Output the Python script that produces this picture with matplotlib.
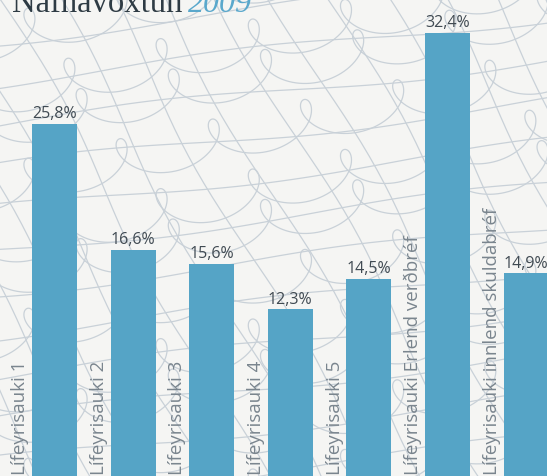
import numpy as np
import matplotlib
matplotlib.use("Agg")
import matplotlib.pyplot as plt

categories = ["Lífeyrisauki 1", "Lífeyrisauki 2", "Lífeyrisauki 3", "Lífeyrisauki 4",
              "Lífeyrisauki 5", "Lífeyrisauki Erlend verðbréf", "Lífeyrisauki innlend skuldabréf"]
values = [25.8, 16.6, 15.6, 12.3, 14.5, 32.4, 14.9]
value_labels = ["25,8%", "16,6%", "15,6%", "12,3%", "14,5%", "32,4%", "14,9%"]
title_main = "Nafnávöxtun"
title_year = "2009"

W, H = 547, 477
fig = plt.figure(figsize=(W / 100, H / 100), dpi=100)
fig.patch.set_facecolor("#f5f5f3")

# decorative background pattern
bg = fig.add_axes([0, 0, 1, 1])
bg.set_xlim(0, W)
bg.set_ylim(H, 0)
bg.axis("off")
line_col = "#c9d1d8"
t = np.linspace(-20, 60, 5000)
ang = np.deg2rad(-12)
for k in range(-6, 14):
    r, d = 15.0, 24.0
    xs = r * t - d * np.sin(t)
    ys = -0.9 * d * np.cos(t)
    x0 = xs * np.cos(ang) - ys * np.sin(ang) - 100 + (k % 3) * 40
    y0 = xs * np.sin(ang) + ys * np.cos(ang) + k * 50
    bg.plot(x0, y0, color=line_col, lw=0.9, solid_capstyle="round")
s = np.linspace(-100, 700, 60)
for k in range(-14, 14):
    xs = s * 0.55 + k * 55
    bg.plot(xs + 8 * np.sin(s / 60 + k), s, color=line_col, lw=0.9)
for k in range(-6, 16):
    xs = np.linspace(-50, 600, 60)
    ys = k * 42 - 0.12 * xs + 6 * np.sin(xs / 90 + k)
    bg.plot(xs, ys, color=line_col, lw=0.9)

ax = fig.add_axes([0, 0, 1, 1])
ax.patch.set_alpha(0)
x = np.arange(len(values))
width = 0.573
ax.bar(x, values, width=width, color="#55a4c6", zorder=3)
ax.set_xlim(-0.693, 6.266)
ax.set_ylim(0.18, 34.85)
ax.axis("off")

for xi, v, lab in zip(x, values, value_labels):
    ax.annotate(lab, (xi, v), xytext=(0, 4.8), textcoords="offset points",
                ha="center", va="baseline", fontsize=11.5, family="Open Sans",
                color="#404a52", zorder=4)

for xi, cat in zip(x, categories):
    ax.annotate(cat, (xi - width / 2, 0.18), xytext=(-2.0, 1.5), textcoords="offset points",
                ha="right", va="bottom", rotation=90, fontsize=13.5, family="Open Sans",
                color="#7a858e", zorder=4)

fig.text(12 / W, 1 - 12 / H, title_main, ha="left", va="baseline", fontsize=23.5,
         family="Liberation Serif", color="#2e3b44")
fig.text(188 / W, 1 - 12 / H, title_year, ha="left", va="baseline", fontsize=23,
         family="Liberation Serif", style="italic", color="#5aa8cc")

fig.savefig("out.png", dpi=100, facecolor=fig.get_facecolor())
